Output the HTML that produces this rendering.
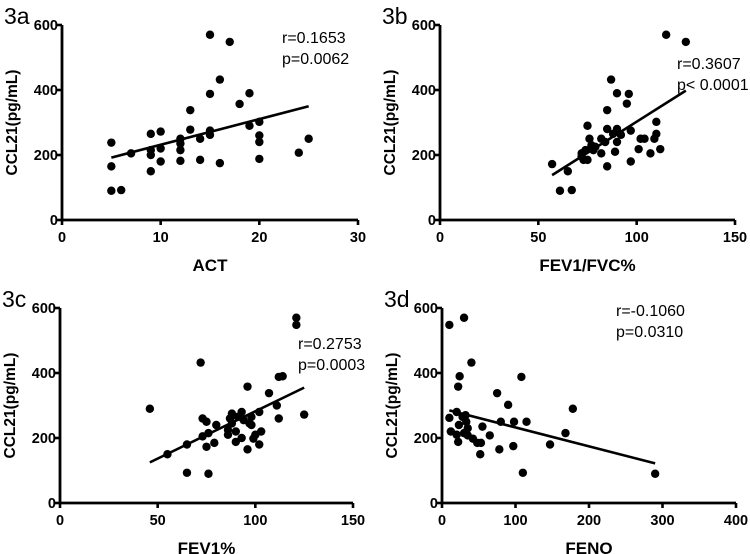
<!DOCTYPE html>
<html><head><meta charset="utf-8"><style>
html,body{margin:0;padding:0;background:#fff;}
svg{display:block;font-family:"Liberation Sans",Arial,sans-serif;}
</style></head><body>
<svg id="chart" width="750" height="554" viewBox="0 0 750 554"></svg>
<script>
// Panel 3a: ACT vs CCL21
const aX=[5,5,5,6,7,9,9,9,9,10,10,10,12,12,12,12,13,13,14,14,15,15,15,15,16,16,17,18,19,19,20,20,20,20,24,25];
const aY=[238,165,90,92,205,265,215,200,150,272,220,180,250,235,215,182,338,278,250,185,570,388,275,262,432,175,548,357,390,290,302,260,240,188,207,250];
const aFit=[[5,192],[25,350]];
// Panel 3b: FEV1/FVC%
const bX=[57,61,65,67,72,72,73,74,75,75,76,77,78,79,82,82,84,85,85,85,87,88,89,90,90,90,92,95,96,97,97,101,102,104,107,109,110,110,112,115,125];
const bY=[172,90,150,92,205,195,185,215,290,185,250,230,215,225,250,205,240,338,165,280,432,265,210,390,280,240,262,358,388,275,180,218,250,250,205,250,302,265,218,570,548];
const bFit=[[57,138],[125,398]];
// Panel 3c: FEV1%
const cX=[46,55,65,65,72,73,73,75,75,76,76,79,80,86,86,87,88,88,90,90,91,93,93,94,96,96,97,98,98,99,100,102,102,103,107,111,112,112,114,121,121,125];
const cY=[290,150,180,93,432,260,205,173,250,90,215,185,240,210,225,260,275,245,220,188,265,280,200,255,358,165,245,240,265,198,210,280,180,220,338,300,260,388,390,570,548,272];
const cFit=[[46,125],[125,355]];
// Panel 3d: FENO
const dX=[10,30,10,12,20,20,22,23,24,22,28,30,32,33,35,35,40,42,48,52,53,55,65,75,78,80,90,97,98,108,110,115,147,168,178,290];
const dY=[548,570,262,220,280,210,188,240,390,358,265,215,270,250,230,208,432,198,185,150,185,235,208,338,165,250,302,175,250,388,93,250,180,215,290,90];
const dFit=[[10,285],[290,122]];
const yTicks=[0,200,400,600];
const aTicks=[0,10,20,30], bTicks=[0,50,100,150], cTicks=[0,50,100,150], dTicks=[0,100,200,300,400];

const NS="http://www.w3.org/2000/svg";
const svg=document.getElementById('chart');
function mk(tag,attrs,parent,txt){const e=document.createElementNS(NS,tag);for(const k in attrs)e.setAttribute(k,attrs[k]);if(txt!==undefined)e.textContent=txt;parent.appendChild(e);return e;}

function panel(id,label,xTitle,xs,ys,fit,xt,box,ann){
  const g=mk('g',{},svg);
  
  
  const xMax=xt[xt.length-1];
  const sx=v=>box.x0+(v/xMax)*(box.x1-box.x0);
  const sy=v=>box.y0-(v/600)*(box.y0-box.y1);
  const t=mk('text',{x:box.x0-58,y:box.y1-1,'font-size':23},g,label);
  
  
  const ax=mk('path',{d:`M${box.x0} ${box.y1}V${box.y0}H${box.x1}`,stroke:'#000','stroke-width':2.8,fill:'none'},g);
  
  
  yTicks.forEach(v=>{
    mk('line',{x1:box.x0-5,x2:box.x0,y1:sy(v),y2:sy(v),stroke:'#000','stroke-width':2.6},g);
    const tl=mk('text',{x:box.x0-4,y:sy(v)+5,'font-size':14.5,'font-weight':'bold','text-anchor':'end'},g,String(v));
    
    
  });
  xt.forEach(v=>{
    mk('line',{x1:sx(v),x2:sx(v),y1:box.y0,y2:box.y0+5,stroke:'#000','stroke-width':2.6},g);
    const tl=mk('text',{x:sx(v),y:box.y0+22,'font-size':14.5,'font-weight':'bold','text-anchor':'middle'},g,String(v));
    
    
  });
  const yt=mk('text',{transform:`translate(${box.x0-45},${(box.y0+box.y1)/2}) rotate(-90)`,'font-size':15.5,'font-weight':'bold','text-anchor':'middle'},g,'CCL21(pg/mL)');
  
  
  const xtl=mk('text',{x:(box.x0+box.x1)/2,y:box.y0+51,'font-size':17,'font-weight':'bold','text-anchor':'middle'},g,xTitle);
  
  
  xs.forEach((v,i)=>{
    const c=mk('circle',{cx:sx(v),cy:sy(ys[i]),r:4.2,fill:'#000'},g);
    
    
  });
  const fl=mk('line',{x1:sx(fit[0][0]),y1:sy(fit[0][1]),x2:sx(fit[1][0]),y2:sy(fit[1][1]),stroke:'#000','stroke-width':2.6},g);
  
  
  ann.lines.forEach((s,i)=>{
    const a=mk('text',{x:ann.x,y:ann.y+i*21,'font-size':16},g,s);
    
    
  });
}
panel('3a','3a','ACT',aX,aY,aFit,aTicks,{x0:62,x1:358,y0:220,y1:25},{x:282,y:43,lines:['r=0.1653','p=0.0062']});
panel('3b','3b','FEV1/FVC%',bX,bY,bFit,bTicks,{x0:440,x1:735,y0:220,y1:25},{x:677,y:69,lines:['r=0.3607','p< 0.0001']});
panel('3c','3c','FEV1%',cX,cY,cFit,cTicks,{x0:60,x1:353,y0:503,y1:308},{x:298,y:349,lines:['r=0.2753','p=0.0003']});
panel('3d','3d','FENO',dX,dY,dFit,dTicks,{x0:442,x1:736,y0:503,y1:308},{x:616,y:316,lines:['r=-0.1060','p=0.0310']});
</script>
</body></html>
